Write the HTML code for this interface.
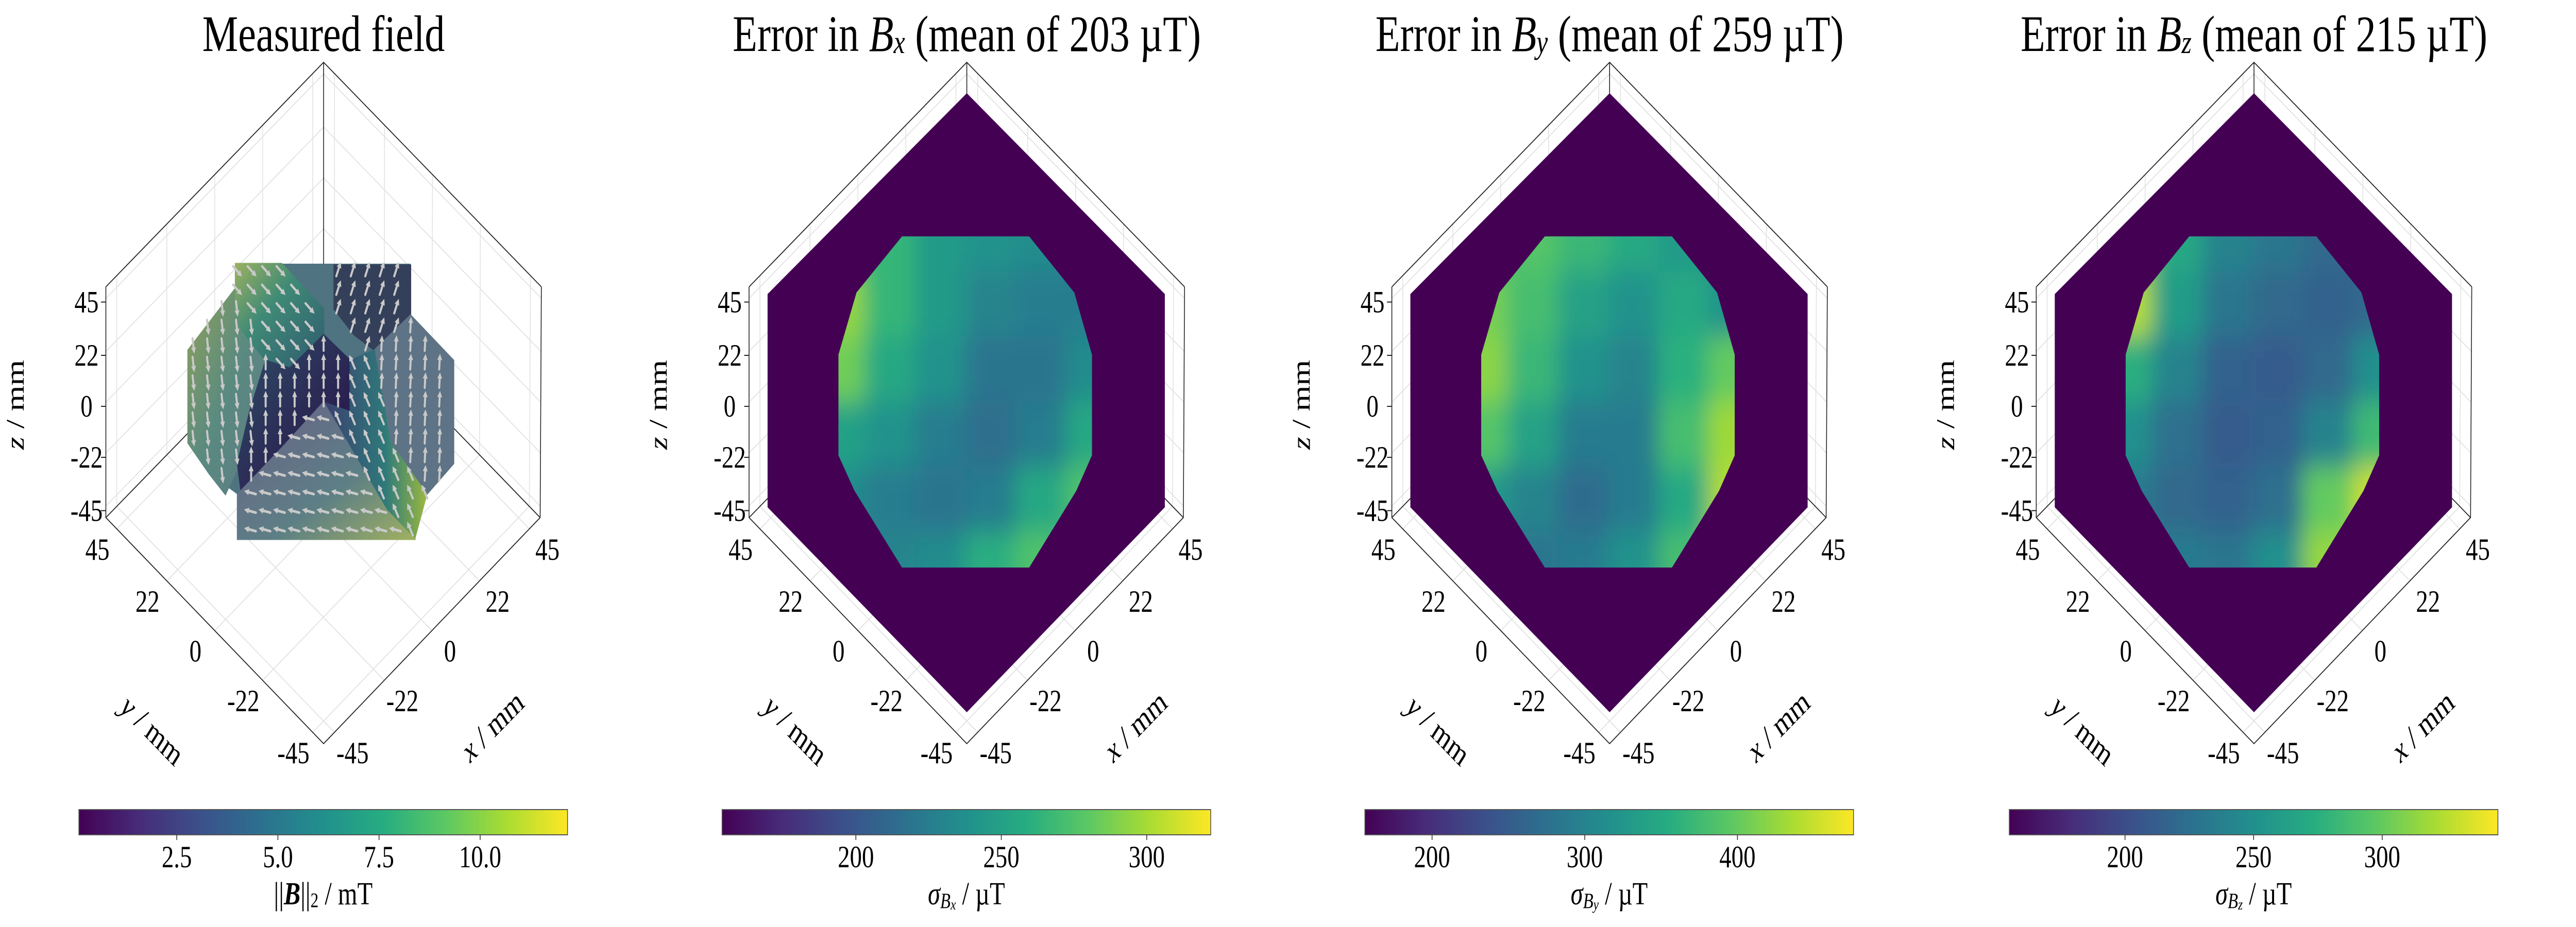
<!DOCTYPE html>
<html><head><meta charset="utf-8">
<style>
html,body{margin:0;padding:0;background:#fff;overflow:hidden;width:100%;height:100%;}
svg{display:block;position:fixed;left:0;top:0;width:100vw;height:100vh;}
text{font-family:"Liberation Serif",serif;fill:#000;}
</style></head>
<body>
<svg id="fig" xmlns="http://www.w3.org/2000/svg" viewBox="0 0 6400 1800" preserveAspectRatio="none">
<defs>
<linearGradient id="viridis" x1="0" x2="1" y1="0" y2="0">
<stop offset="0" stop-color="#440154"/><stop offset="0.125" stop-color="#472c7a"/><stop offset="0.25" stop-color="#3b518b"/><stop offset="0.375" stop-color="#2c718e"/><stop offset="0.5" stop-color="#21908d"/><stop offset="0.625" stop-color="#27ad81"/><stop offset="0.75" stop-color="#5cc863"/><stop offset="0.875" stop-color="#aadc32"/><stop offset="1" stop-color="#fde725"/>
</linearGradient>
<filter id="soft" x="-20%" y="-20%" width="140%" height="140%"><feGaussianBlur stdDeviation="26"/></filter>
<clipPath id="discClip"><polygon points="643,459 959,459 1071,568 1115,689 1115,884 1076,953 959,1102 643,1102 525,953 485,884 485,689 530,568"/></clipPath>
<linearGradient id="gL" x1="0" y1="0" x2="1" y2="1"><stop offset="0" stop-color="#8fa25a"/><stop offset="0.5" stop-color="#5a8a80"/><stop offset="1" stop-color="#5d7a85"/></linearGradient>
<linearGradient id="gTL" x1="0" y1="0" x2="1" y2="1"><stop offset="0" stop-color="#9ab060"/><stop offset="0.4" stop-color="#3f8a76"/><stop offset="1" stop-color="#2f5a70"/></linearGradient>
<linearGradient id="gC" x1="0" y1="0" x2="1" y2="1"><stop offset="0" stop-color="#2f5068"/><stop offset="0.7" stop-color="#2a1f50"/><stop offset="1" stop-color="#3a2a60"/></linearGradient>
<linearGradient id="gD" x1="0" y1="0" x2="1" y2="0"><stop offset="0" stop-color="#3a3f70"/><stop offset="0.6" stop-color="#2f7a7a"/><stop offset="1" stop-color="#9ab840"/></linearGradient>
<linearGradient id="gB" x1="0" y1="0" x2="1" y2="1"><stop offset="0" stop-color="#6a6088"/><stop offset="0.6" stop-color="#5d7f85"/><stop offset="1" stop-color="#a0b060"/></linearGradient>
</defs>
</svg>
<script>
// ---- data ----
const panelTitles = ["Measured field", "Bx", "By", "Bz"];
const meanErrors = [null, 203, 259, 215];
const axisTicks = [45, 22, 0, -22, -45];
const axisTickLabels = ["45", "22", "0", "-22", "-45"];
const cbTicks1 = [2.5, 5.0, 7.5, 10.0];
const cbLabels1 = ["2.5", "5.0", "7.5", "10.0"];
const cbRange1 = [0.08, 12.16];
const cbTicks2 = [200, 250, 300];
const cbRange2 = [154, 322];
const cbTicks3 = [200, 300, 400];
const cbRange3 = [156, 476];
const cbTicks4 = [200, 250, 300];
const cbRange4 = [155, 345];
const errBx = [
 [270,265,245,240,235,230],
 [295,265,245,230,225,225],
 [285,255,240,220,220,235],
 [250,240,225,215,225,255],
 [235,225,220,225,255,275],
 [240,230,235,260,275,255]];
const errBy = [
 [380,390,370,350,330,300],
 [410,380,340,320,350,320],
 [420,370,320,300,360,400],
 [390,340,290,290,380,430],
 [330,300,270,290,350,440],
 [290,280,290,320,380,460]];
const errBz = [
 [310,270,240,230,220,210],
 [325,260,230,220,215,220],
 [275,240,215,210,220,250],
 [250,225,210,215,240,285],
 [235,220,215,225,300,330],
 [240,235,230,250,315,300]];
// quiver: screen angle (deg, 90 = down) per slice region
const fieldRegions = ["left", "top-left", "center", "top-right", "right", "diagonal", "bottom"];
const fieldAngles = [82, 42, -90, -68, -86, -118, 192];

// ---- helpers ----
const NS = "http://www.w3.org/2000/svg";
const svg = document.getElementById("fig");
const VIR = ["#440154","#472c7a","#3b518b","#2c718e","#21908d","#27ad81","#5cc863","#aadc32","#fde725"];
function hex(c){return [parseInt(c.substr(1,2),16),parseInt(c.substr(3,2),16),parseInt(c.substr(5,2),16)];}
function viridis(t){t=Math.max(0,Math.min(1,t));const s=t*8,i=Math.min(7,Math.floor(s)),f=s-i;const a=hex(VIR[i]),b=hex(VIR[i+1]);
 return "rgb("+a.map((v,k)=>Math.round(v+(b[k]-v)*f)).join(",")+")";}
function el(tag, attrs, parent){const e=document.createElementNS(NS,tag);for(const k in attrs)e.setAttribute(k,attrs[k]);(parent||svg).appendChild(e);return e;}
function txt(parent, x, y, s, size, extra){const t=el("text",Object.assign({x:x,y:y,"font-size":size,"text-anchor":"middle","dominant-baseline":"central"},extra||{}),parent);t.textContent=s;return t;}
function lerp(a,b,t){return [a[0]+(b[0]-a[0])*t,a[1]+(b[1]-a[1])*t];}
function inPoly(p,poly){let c=false;for(let i=0,j=poly.length-1;i<poly.length;j=i++){const a=poly[i],b=poly[j];
 if(((a[1]>p[1])!=(b[1]>p[1]))&&(p[0]<(b[0]-a[0])*(p[1]-a[1])/(b[1]-a[1])+a[0]))c=!c;}return c;}

const offsets = [0, 1598, 3195, 4796];
const TOP=[804,121], TL=[263,557], BL=[263,1005], BOT=[804,1444], BR=[1342,1005], TR=[1345,557], BACK=[804,570];
function zY(v){return 789 - v*4.5;}
function xEdge(v){const t=(v+50)/100;return lerp(BOT,BR,t);}
function yEdge(v){const t=(v+50)/100;return lerp(BOT,BL,t);}

function drawBox(g){
 const grid = el("g",{stroke:"#e2e2e2","stroke-width":2,fill:"none"},g);
 
 
 const quads=[[BACK,TOP,TL,BL],[BACK,TOP,TR,BR],[BACK,BL,BOT,BR]];
 const fr=[0.05,0.28,0.5,0.72,0.95];
 quads.forEach(q=>{fr.forEach(f=>{
   const a=lerp(q[0],q[1],f),b=lerp(q[3],q[2],f);el("line",{x1:a[0],y1:a[1],x2:b[0],y2:b[1]},grid);
   const c=lerp(q[0],q[3],f),d=lerp(q[1],q[2],f);el("line",{x1:c[0],y1:c[1],x2:d[0],y2:d[1]},grid);});});
 const box = el("g",{stroke:"#222","stroke-width":2,fill:"none"},g);
 
 
 el("polyline",{points:[TL,TOP,TR].map(p=>p.join(",")).join(" ")},box);
 el("polyline",{points:[TL,BL,BOT,BR,TR].map(p=>p.join(",")).join(" ")},box);
 el("polyline",{points:[TOP,BACK].map(p=>p.join(",")).join(" ")},box);
 el("polyline",{points:[BL,BACK,BR].map(p=>p.join(",")).join(" ")},box);
}

function drawAxes(g){
 const ax = el("g",{},g);
 
 
 axisTicks.forEach((v,i)=>{
  const zt=txt(ax, 215, zY(v), axisTickLabels[i], 60);
  
  
  el("line",{x1:263,y1:zY(v),x2:251,y2:zY(v),stroke:"#222","stroke-width":2},ax);
  const px=xEdge(v);
  const xt=txt(ax, px[0]+45, px[1]+40, axisTickLabels[i], 60);
  
  
  const py=yEdge(v);
  const yt=txt(ax, py[0]-48, py[1]+40, axisTickLabels[i], 60);
  
  
 });
 const zl=txt(ax,0,0,"",64,{transform:"translate(38,786) rotate(-90)"});
 zl.innerHTML='<tspan font-style="italic">z</tspan> / mm';
 
 
 const yl=txt(ax,0,0,"",64,{transform:"translate(378,1418) rotate(39)"});
 yl.innerHTML='<tspan font-style="italic">y</tspan> / mm';
 
 
 const xl=txt(ax,0,0,"",64,{transform:"translate(1224,1410) rotate(-39)"});
 xl.innerHTML='<tspan font-style="italic">x</tspan> / mm';
 
 
}

function drawColorbar(g, ticks, labels, range, labelHTML){
 const cb=el("g",{},g);
 
 
 const x0=196,x1=1410,y0=1572,y1=1621;
 el("rect",{x:x0,y:y0,width:x1-x0,height:y1-y0,fill:"url(#viridis)",stroke:"#555","stroke-width":2},cb);
 const sx=v=>x0+(v-range[0])/(range[1]-range[0])*(x1-x0);
 ticks.forEach((v,i)=>{
  el("line",{x1:sx(v),y1:y1,x2:sx(v),y2:y1+10,stroke:"#333","stroke-width":2},cb);
  const t=txt(cb,sx(v),1664,labels[i],60);
  
  
 });
 const l=txt(cb,803,1736,"",62);
 l.innerHTML=labelHTML;
 
 
}

function drawHeat(g, grid, range){
 const hg=el("g",{"clip-path":"url(#discClip)"},g);
 
 
 const inner=el("g",{filter:"url(#soft)"},hg);
 const bx0=425,bx1=1175,by0=400,by1=1160;
 const rows=grid.length, cols=grid[0].length;
 const cw=(bx1-bx0)/cols, ch=(by1-by0)/rows;
 grid.forEach((row,r)=>row.forEach((v,c)=>{
  const cell=el("rect",{x:bx0+c*cw,y:by0+r*ch,width:cw+1,height:ch+1,fill:viridis((v-range[0])/(range[1]-range[0]))},inner);
  
  
 }));
}

function drawField(g){
 const regions={
  "left":[[467,680],[585,560],[660,700],[660,790],[560,960],[520,920],[467,860]],
  "top-left":[[585,512],[700,512],[804,600],[804,650],[720,715],[660,700],[600,640],[585,600]],
  "center":[[660,700],[720,715],[804,650],[870,700],[870,800],[804,781],[700,870],[600,960],[590,900],[620,800]],
  "top-right":[[830,515],[1020,515],[1020,612],[930,680],[880,650],[830,600]],
  "right":[[930,680],[1020,612],[1127,700],[1127,900],[1060,960],[970,860]],
  "diagonal":[[870,700],[930,680],[970,860],[1060,960],[1030,1047],[960,990],[804,781],[870,800]],
  "bottom":[[804,781],[960,990],[1030,1047],[590,1047],[590,960],[700,870]]};
 const fills={"left":"url(#gL)","top-left":"url(#gTL)","center":"url(#gC)","top-right":"#34405a","right":"#5e7385","diagonal":"url(#gD)","bottom":"url(#gB)"};
 const fg=el("g",{},g);
 
 
 const base=el("polygon",{points:"585,512 1020,512 1020,612 1127,700 1127,900 1060,960 1030,1047 590,1047 590,960 520,920 467,860 467,680 585,560",fill:"#4f7380"},fg);
 
 
 fieldRegions.forEach(n=>{
  const p=el("polygon",{points:regions[n].map(q=>q.join(",")).join(" "),fill:fills[n],stroke:fills[n],"stroke-width":3},fg);
  
  
 });
 const qg=el("g",{stroke:"#c9c9c9","stroke-width":5,"stroke-linecap":"round",fill:"#c9c9c9"},g);
 
 
 for(let y=525;y<1045;y+=36){for(let x=480;x<1127;x+=36){
  let idx=-1;fieldRegions.forEach((n,i)=>{if(idx<0&&inPoly([x,y],regions[n]))idx=i;});
  if(idx<0)continue;
  const a=fieldAngles[idx]*Math.PI/180, L=24;
  const x1=x-Math.cos(a)*L/2,y1=y-Math.sin(a)*L/2,x2=x+Math.cos(a)*L/2,y2=y+Math.sin(a)*L/2;
  const ar=el("g",{},qg);
  
  
  el("line",{x1:x1,y1:y1,x2:x2,y2:y2},ar);
  const hx=Math.cos(a),hy=Math.sin(a);
  el("polygon",{points:[[x2+hx*6,y2+hy*6],[x2-hx*6-hy*6,y2-hy*6+hx*6],[x2-hx*6+hy*6,y2-hy*6-hx*6]].map(q=>q.join(",")).join(" "),stroke:"none"},ar);
 }}
}

// ---- build ----
const heats=[null,errBx,errBy,errBz];
const ranges=[cbRange1,cbRange2,cbRange3,cbRange4];
const tickSets=[cbTicks1,cbTicks2,cbTicks3,cbTicks4];
const subs=["","x","y","z"];
offsets.forEach((ox,i)=>{
 const g=el("g",{transform:"translate("+ox+",0)"});
 
 
 const t=txt(g,804,66,"",100);
 if(i===0){t.textContent=panelTitles[0];}
 else{t.innerHTML='Error in <tspan font-style="italic">B</tspan><tspan font-style="italic" font-size="64" dy="16">'+subs[i]+'</tspan><tspan dy="-16"> (mean of '+meanErrors[i]+' µT)</tspan>';}
 
 
 drawBox(g);
 if(i===0){drawField(g);}
 else{
  const hexg=el("polygon",{points:"804,181 1296,571 1296,985 804,1383 309,985 309,571",fill:"#440154"},g);
  
  
  drawHeat(g,heats[i],ranges[i]);
 }
 drawAxes(g);
 const labels = i===0 ? cbLabels1 : tickSets[i].map(v=>String(v));
 const lab = i===0 ? '||<tspan font-weight="bold" font-style="italic">B</tspan>||<tspan font-size="40" dy="12">2</tspan><tspan dy="-12"> / mT</tspan>'
   : '<tspan font-style="italic">σ</tspan><tspan font-style="italic" font-size="42" dy="14">B</tspan><tspan font-style="italic" font-size="30" dy="6">'+subs[i]+'</tspan><tspan dy="-20"> / µT</tspan>';
 drawColorbar(g,tickSets[i],labels,ranges[i],lab);
});
</script>
</body></html>
